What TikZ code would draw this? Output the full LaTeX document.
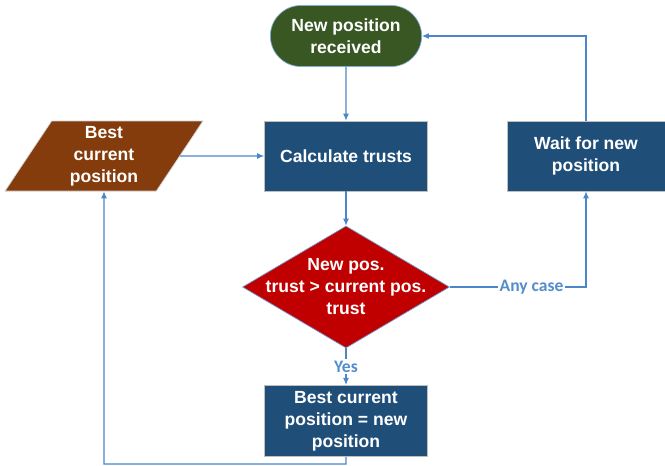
\documentclass[tikz,border=0pt]{standalone}
\usepackage{fontspec}
\setmainfont{Liberation Sans}
\newfontfamily\labelfont{Carlito}
\usetikzlibrary{shapes.geometric,shapes.misc,arrows.meta}

\definecolor{boxblue}{RGB}{31,78,121}
\definecolor{startgreen}{RGB}{56,87,35}
\definecolor{inbrown}{RGB}{132,60,12}
\definecolor{decred}{RGB}{192,0,0}
\definecolor{lineblue}{RGB}{75,135,200}
\definecolor{labelblue}{RGB}{84,141,204}

\begin{document}
\begin{tikzpicture}[
		font=\fontsize{10}{12.5}\selectfont\bfseries,
		every node/.style={text=white, align=center},
		process/.style={rectangle, fill=boxblue, draw=gray!50, minimum width=3.26cm, minimum height=1.4cm},
		terminal/.style={rounded rectangle, fill=startgreen, draw=lineblue!70, minimum width=3.26cm, minimum height=1.22cm},
		inout/.style={trapezium, trapezium left angle=63, trapezium right angle=117, trapezium stretches=true, fill=inbrown, draw=gray!40, minimum width=3.96cm, minimum height=1.4cm, inner sep=0pt},
		decision/.style={diamond, fill=decred, draw=lineblue!80, minimum width=4.14cm, minimum height=2.44cm, inner sep=0pt},
		edgelabel/.style={fill=white, text=labelblue, inner sep=1pt, font=\labelfont\fontsize{10}{12}\selectfont\bfseries},
		flow/.style={draw=lineblue, line width=0.6pt, -{Latex[length=1.4mm,width=1.2mm]}}
	]
		\useasboundingbox (0, 0) rectangle (13.3, -9.32);

		\node[terminal] (start) at (6.92, -0.72) {New position\\received};
		\node[process] (calc) at (6.92, -3.12) {Calculate trusts};
		\node[process, minimum width=3.16cm] (wait) at (11.72, -3.12) {Wait for new\\position};
		\node[inout] (best) at (2.08, -3.12) {Best\\current\\position};
		\node[decision, label={[text=white]center:New pos.\\trust > current pos.\\trust}] (dec) at (6.92, -5.74) {};
		\node[process] (update) at (6.92, -8.42) {Best current\\position = new\\position};

		\coordinate (loop) at (2.08, -9.28);

		\draw[flow] (start) -- (calc);
		\draw[flow] (best) -- (calc);
		\draw[flow] (calc) -- (dec);
		\draw[flow] (dec.east) -- node[edgelabel, pos=0.6] {Any case} (dec.east -| wait) -- (wait.south);
		\draw[flow] (wait.north) |- (start.east);
		\draw[flow] (dec.south) -- node[edgelabel] {Yes} (update.north);
		\draw[flow] (update.south) |- (loop) -- (best.south);
	\end{tikzpicture}
\end{document}
